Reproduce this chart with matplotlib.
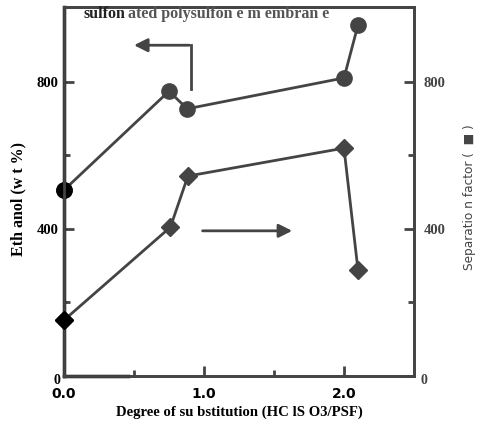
import matplotlib
matplotlib.use("Agg")
import matplotlib.pyplot as plt
from matplotlib.ticker import FixedLocator

# Data
ds_eth = [0.0, 0.75, 0.88, 2.0, 2.1]
ethanol = [506, 775, 727, 811, 955]
ds_sep = [0.0, 0.76, 0.885, 2.0, 2.1]
sep_factor = [152, 405, 544, 620, 288]
xticks = [0.0, 1.0, 2.0]
xticklabels = ["0.0", "1.0", "2.0"]
yticks = [0, 400, 800]
yticklabels = ["", "400", "800"]

C = "#444444"
serif = ["Liberation Serif", "DejaVu Serif"]

fig = plt.figure(figsize=(4.8, 4.25), dpi=100)
ax = fig.add_axes([64/480, 49/425, 350/480, 369/425])
ax2 = ax.twinx()

ax.set_xlim(0, 2.5)
ax.set_ylim(0, 1004)
ax2.set_ylim(0, 1004)

ax.plot(ds_eth, ethanol, color=C, lw=2, marker="o", ms=11, mfc=C, mec=C, clip_on=False, zorder=5)
ax.plot(ds_eth[:1], ethanol[:1], color="black", marker="o", ms=11, clip_on=False, zorder=6)
ax2.plot(ds_sep, sep_factor, color=C, lw=2, marker="D", ms=9, mfc=C, mec=C, clip_on=False, zorder=5)
ax2.plot(ds_sep[:1], sep_factor[:1], color="black", marker="D", ms=9, clip_on=False, zorder=6)

for a in (ax, ax2):
    for s in a.spines.values():
        s.set_color(C)
        s.set_linewidth(2)
ax.spines["left"].set_color("black")
ax.spines["left"].set_linewidth(2.5)
# darker start of bottom axis
ax.plot([0, 0.46], [0, 0], color="black", lw=2.5, clip_on=False, zorder=7)

ax.xaxis.set_major_locator(FixedLocator(xticks))
ax.xaxis.set_minor_locator(FixedLocator([0.5, 1.5]))
ax.set_xticklabels(xticklabels, fontsize=10, fontweight="bold", family="DejaVu Sans")
ax.yaxis.set_major_locator(FixedLocator(yticks))
ax.yaxis.set_minor_locator(FixedLocator([200, 600]))
ax.set_yticklabels(yticklabels, fontsize=10.5, fontweight="bold", family=serif)
ax2.yaxis.set_major_locator(FixedLocator(yticks))
ax2.yaxis.set_minor_locator(FixedLocator([200, 600]))
ax2.set_yticklabels(yticklabels, fontsize=10.5, fontweight="bold", family=serif, color=C)

ax.tick_params(axis="both", which="both", direction="in", width=2, colors=C, labelcolor="black")
ax.tick_params(axis="both", which="major", length=7)
ax.tick_params(axis="both", which="minor", length=4)
ax.tick_params(axis="x", pad=8)
ax.tick_params(axis="y", pad=4)
ax2.tick_params(axis="y", which="both", direction="in", width=2, colors=C, labelcolor=C, pad=7)
ax2.tick_params(axis="y", which="major", length=7)
ax2.tick_params(axis="y", which="minor", length=4)

fig.text(57/480, 1-381/425, "0", fontsize=10, fontweight="bold", family=serif, ha="center", va="center")
fig.text(424/480, 1-381/425, "0", fontsize=10, fontweight="bold", family=serif, ha="center", va="center", color=C)

ax.set_xlabel("Degree of su bstitution (HC lS O3/PSF)", fontsize=10.6, fontweight="bold", family=serif, labelpad=3)
fig.text(18/480, 1-199/425, "Eth anol (w t %)", rotation=90, fontsize=11.5, fontweight="bold",
         family=serif, ha="center", va="center")
fig.text(469/480, 1-197/425, "Separatio n factor (  \u25a0 )", rotation=90, fontsize=8.7,
         family="DejaVu Sans", ha="center", va="center", color=C)

fig.text(83/480, 1-14/425, "sulfon", fontsize=11.5, fontweight="bold", family=serif, color="#222222", va="center")
fig.text(128/480, 1-14/425, "ated polysulfon e m embran e", fontsize=11.5, fontweight="bold",
         family=serif, color="#555555", va="center")

# arrows (in axes data coordinates)
ax.plot([0.905, 0.905], [782, 900], color=C, lw=2)
ax.annotate("", xy=(0.48, 900), xytext=(0.915, 900),
            arrowprops=dict(arrowstyle="-|>,head_length=0.8,head_width=0.4", color=C, lw=2))
ax.annotate("", xy=(1.65, 395), xytext=(0.97, 395),
            arrowprops=dict(arrowstyle="-|>,head_length=0.8,head_width=0.4", color=C, lw=2))

fig.savefig("out.png", dpi=100)
